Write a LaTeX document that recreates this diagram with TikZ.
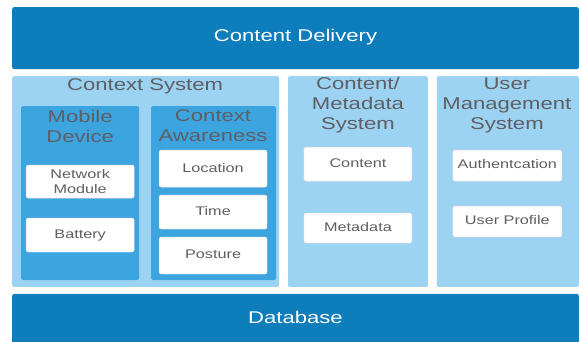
\documentclass[tikz,border=0pt]{standalone}
\usepackage{fontspec}
\setmainfont{Liberation Sans}
\newfontfamily\widesans[FakeStretch=1.3]{Liberation Sans}
\definecolor{darkbar}{HTML}{0E7DBC}
\definecolor{lightpanel}{HTML}{9DD3F2}
\definecolor{midpanel}{HTML}{3CA5DF}
\definecolor{titlegray}{HTML}{5E5E64}
\definecolor{boxedge}{HTML}{F0D8E0}
\tikzset{
	bar/.style={draw=none, fill=darkbar, rounded corners=2pt},
	panel/.style={draw=none, fill=lightpanel, rounded corners=2pt},
	subpanel/.style={draw=none, fill=midpanel, rounded corners=2pt},
	item/.style={draw=boxedge, fill=white, rounded corners=2pt},
	bartext/.style={text=white, font=\widesans\fontsize{17}{20}\selectfont},
	titletext/.style={text=titlegray, align=center, font=\widesans\fontsize{17}{20}\selectfont},
	itemtext/.style={text=titlegray, align=center, font=\widesans\fontsize{12.5}{15}\selectfont}
}
\begin{document}
\begin{tikzpicture}[x=1pt,y=-1pt]

	%Background
	\draw[draw=white, fill=white] (0,0) rectangle (579,341);
	\useasboundingbox (0,0) rectangle (579,341);

	%Content Delivery
	\draw[bar] (12,7) rectangle (579,69);
	\node[bartext] (delivery) at (295.5,37) {Content Delivery};

	%Context System
	\draw[panel] (12,76) rectangle (279,287);
	\node[titletext] (contextsys) at (145,86) {Context System};

	%Mobile Device
	\draw[subpanel] (21,106) rectangle (139,280);
	\node[titletext] (mobile) at (80,126) {Mobile\\Device};
	\draw[item] (26,165) rectangle (134,198);
	\node[itemtext] (network) at (80,181.5) {Network\\Module};
	\draw[item] (26,218) rectangle (134,252);
	\node[itemtext] (battery) at (80,235) {Battery};

	%Context Awareness
	\draw[subpanel] (151,106) rectangle (276,280);
	\node[titletext] (awareness) at (213,126) {Context\\Awareness};
	\draw[item] (159,150) rectangle (267,187);
	\node[itemtext] (location) at (213,168) {Location};
	\draw[item] (159,195) rectangle (267,229);
	\node[itemtext] (time) at (213,211) {Time};
	\draw[item] (159,237) rectangle (267,274);
	\node[itemtext] (posture) at (213,254) {Posture};

	%Content/Metadata System
	\draw[panel] (288,76) rectangle (428,287);
	\node[titletext] (contentsys) at (358,105) {Content/\\Metadata\\System};
	\draw[item] (304,147) rectangle (412,181);
	\node[itemtext] (content) at (358,163) {Content};
	\draw[item] (304,213) rectangle (412,243);
	\node[itemtext] (metadata) at (358,227) {Metadata};

	%User Management System
	\draw[panel] (437,76) rectangle (579,287);
	\node[titletext] (usersys) at (507,105) {User\\Management\\System};
	\draw[item] (453,150) rectangle (562,181);
	\node[itemtext] (auth) at (507.5,164) {Authentcation};
	\draw[item] (453,206) rectangle (562,237);
	\node[itemtext] (profile) at (507.5,220) {User Profile};

	%Database
	\draw[bar] (12,294) rectangle (579,345);
	\node[bartext] (database) at (295.5,317) {Database};

\end{tikzpicture}
\end{document}
